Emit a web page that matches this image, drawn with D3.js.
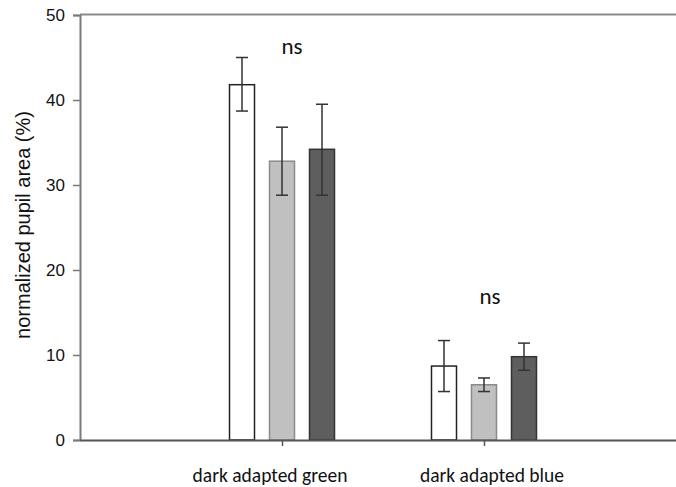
<!DOCTYPE html>
<html>
<head>
<meta charset="utf-8">
<script src="https://cdn.jsdelivr.net/npm/d3@7"></script>
<style>
  body { margin: 0; background: #fff; }
  svg { display: block; }
</style>
</head>
<body>
<script>
var width = 676;
var height = 487;

// data
var categories = ["dark adapted green", "dark adapted blue"];
var series = ["s1", "s2", "s3"];
var means = [[41.8, 32.8, 34.2], [8.7, 6.5, 9.8]];
var errLow = [[38.7, 28.8, 28.8], [5.7, 5.7, 8.2]];
var errHigh = [[45.0, 36.8, 39.5], [11.7, 7.3, 11.4]];
var sigLabels = ["ns", "ns"];
var sigLevel = [45.4, 16.0];
var yTicks = [0, 10, 20, 30, 40, 50];

var fills = ["#ffffff", "#c0c0c0", "#5e5e5e"];
var strokes = ["#222", "#8a8a8a", "#333"];

var plotLeft = 80, plotRight = 686, plotTop = 15, plotBottom = 440;
var sansFont = "'Liberation Sans', Arial, sans-serif";

var svg = d3.select("body").append("svg")
  .attr("width", width)
  .attr("height", height);

var y = d3.scaleLinear().domain([0, 50]).range([plotBottom, plotTop]);
var x = d3.scalePoint().domain(categories).range([plotLeft, plotRight]).padding(1);
var xs = d3.scaleBand().domain(series).range([-60, 60])
  .paddingInner(0.375).paddingOuter(0.1875);

// frame top line
svg.append("line")
  .attr("x1", plotLeft).attr("x2", width)
  .attr("y1", y(50) - 0.5).attr("y2", y(50) - 0.5)
  .attr("stroke", "#8c8c8c").attr("stroke-width", 2);

// y axis
var yAxis = svg.append("g")
  .attr("transform", "translate(" + plotLeft + ",0)")
  .call(d3.axisLeft(y).tickValues(yTicks).tickSize(7).tickPadding(8));
yAxis.attr("font-family", sansFont).attr("font-size", 17);
yAxis.select(".domain").attr("stroke", "#7a7a7a").attr("stroke-width", 2);
yAxis.selectAll(".tick line").attr("stroke", "#7a7a7a").attr("stroke-width", 1.5);
yAxis.selectAll("text").attr("fill", "#111");

svg.append("text")
  .attr("transform", "translate(23," + 225 + ") rotate(-90)")
  .attr("text-anchor", "middle")
  .attr("dy", "0.35em")
  .attr("font-family", sansFont)
  .attr("font-size", 20)
  .attr("fill", "#111")
  .text("normalized pupil area (%)");

// bars
var groups = svg.selectAll("g.grp")
  .data(categories)
  .enter().append("g")
  .attr("class", "grp")
  .attr("transform", function(d) { return "translate(" + x(d) + ",0)"; });

groups.each(function(cat, gi) {
  var g = d3.select(this);
  series.forEach(function(s, si) {
    g.append("rect")
      .attr("x", xs(s))
      .attr("y", y(means[gi][si]))
      .attr("width", xs.bandwidth())
      .attr("height", y(0) - y(means[gi][si]))
      .attr("fill", fills[si])
      .attr("stroke", strokes[si])
      .attr("stroke-width", 1.5);
  });
  series.forEach(function(s, si) {
    var cx = xs(s) + xs.bandwidth() / 2;
    var eb = g.append("g").attr("stroke", "#333").attr("stroke-width", 1.5);
    eb.append("line").attr("x1", cx).attr("x2", cx)
      .attr("y1", y(errLow[gi][si])).attr("y2", y(errHigh[gi][si]));
    eb.append("line").attr("x1", cx - 6).attr("x2", cx + 6)
      .attr("y1", y(errLow[gi][si])).attr("y2", y(errLow[gi][si]));
    eb.append("line").attr("x1", cx - 6).attr("x2", cx + 6)
      .attr("y1", y(errHigh[gi][si])).attr("y2", y(errHigh[gi][si]));
  });
});

// x axis
var xAxis = svg.append("g")
  .attr("transform", "translate(0," + plotBottom + ")")
  .call(d3.axisBottom(x).tickSize(6).tickSizeOuter(0).tickFormat(""));
xAxis.select(".domain").attr("stroke", "#555").attr("stroke-width", 2);
xAxis.selectAll(".tick line").attr("stroke", "#555").attr("stroke-width", 1.5);

var labelShift = [-12, 8];
svg.selectAll("text.cat")
  .data(categories)
  .enter().append("text")
  .attr("class", "cat")
  .attr("x", function(d, i) { return x(d) + labelShift[i]; })
  .attr("y", 482)
  .attr("text-anchor", "middle")
  .attr("font-family", "Carlito, Lato, sans-serif")
  .attr("font-size", 19.5)
  .attr("fill", "#111")
  .text(function(d) { return d; });

// significance labels
svg.selectAll("text.sig")
  .data(sigLabels)
  .enter().append("text")
  .attr("class", "sig")
  .attr("x", function(d, i) { return x(categories[i]) + (i === 0 ? 10 : 6); })
  .attr("y", function(d, i) { return y(sigLevel[i]); })
  .attr("text-anchor", "middle")
  .attr("font-family", "Carlito, Lato, sans-serif")
  .attr("font-size", 23)
  .attr("fill", "#111")
  .text(function(d) { return d; });
</script>
</body>
</html>
